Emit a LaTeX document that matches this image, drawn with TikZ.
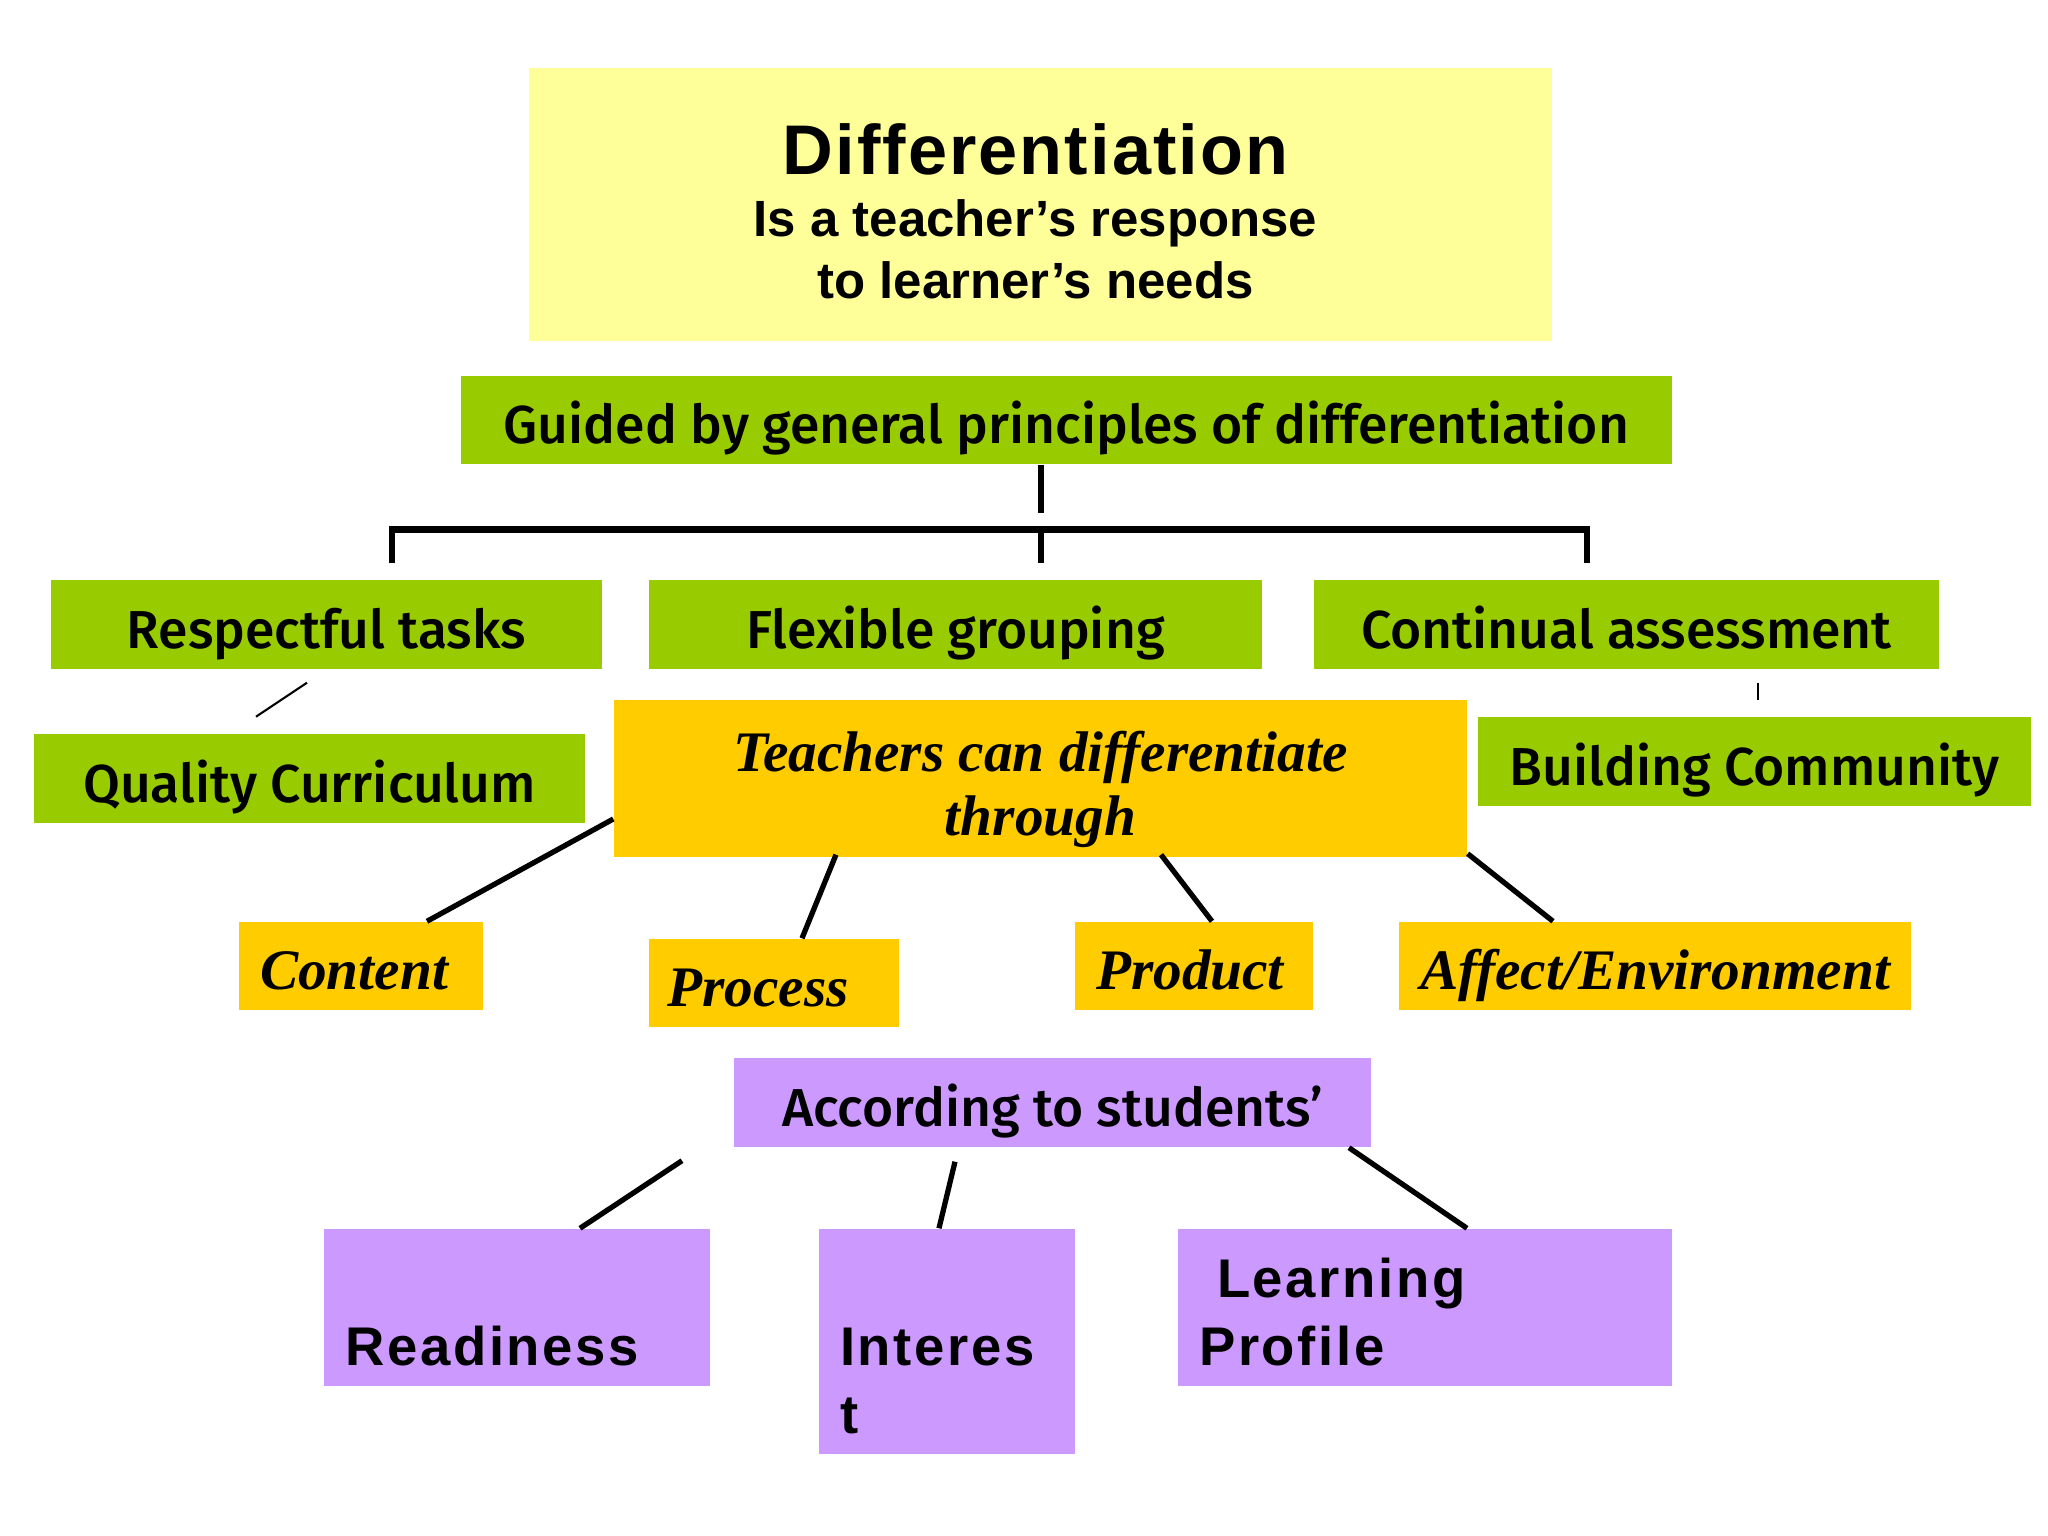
\documentclass[tikz,border=0pt]{standalone}
\usepackage{fontspec}
\setmainfont{Liberation Serif}
\newfontfamily\arialfont{Liberation Sans}
\newfontfamily\headfont{Liberation Sans}[LetterSpace=3]
\newfontfamily\spacedfont{Liberation Sans}[LetterSpace=5]
\newfontfamily\labelfont{Fira Sans}[UprightFont=* Medium]
\usepackage{tikz}
\usetikzlibrary{positioning,calc}

\definecolor{paleyellow}{HTML}{FFFF99}
\definecolor{leafgreen}{HTML}{99CC00}
\definecolor{amber}{HTML}{FFCC00}
\definecolor{lilac}{HTML}{CC99FF}

\begin{document}
\begin{tikzpicture}
    \tikzstyle{box}=[rectangle,inner sep=0pt,align=center]
    \tikzstyle{greenbox}=[box,fill=leafgreen,minimum height=0.89cm,text height=0.48cm,text depth=0cm,font=\labelfont\fontsize{15.2}{18}\selectfont]
    \tikzstyle{orangebox}=[box,fill=amber,minimum height=0.88cm,text height=0.46cm,text depth=0cm,font=\bfseries\itshape\fontsize{16.3}{18.4}\selectfont]
    \tikzstyle{purplebox}=[box,fill=lilac]
    \tikzstyle{purpletext}=[inner sep=0pt,anchor=base west,font=\spacedfont\bfseries\fontsize{15.5}{18}\selectfont]
    \tikzstyle{link}=[line width=1.5pt]

    \useasboundingbox (0,0) rectangle (20.48,-15.36);

    \node[box,fill=paleyellow,minimum width=10.23cm,minimum height=2.73cm] at (10.405,-2.045) (diff) {};
    \node[box,font=\arialfont\bfseries\fontsize{14.5}{17.6}\selectfont] at ($(diff.center)+(-0.05,-0.065)$) (difft)
      {{\headfont\fontsize{20}{17.6}\selectfont Differentiation}\\Is a teacher’s response\\to learner’s needs};

    \node[greenbox,minimum width=12.11cm,minimum height=0.88cm] at (10.665,-4.20) (guided) {Guided by general principles of differentiation};
    \node[greenbox,minimum width=5.51cm] at (3.265,-6.245) (resp) {Respectful tasks};
    \node[greenbox,minimum width=6.13cm] at (9.555,-6.245) (flex) {Flexible grouping};
    \node[greenbox,minimum width=6.25cm] at (16.265,-6.245) (cont) {Continual assessment};
    \node[greenbox,minimum width=5.51cm] at (3.095,-7.785) (qual) {Quality Curriculum};
    \node[greenbox,minimum width=5.53cm] at (17.545,-7.615) (build) {Building Community};

    \node[box,fill=amber,minimum width=8.53cm,minimum height=1.57cm,font=\bfseries\itshape\fontsize{16.3}{18.4}\selectfont]
      at (10.405,-7.785) (teach) {\rule{0pt}{0.62cm}Teachers can differentiate\\through};
    \node[orangebox,minimum width=2.44cm] at (3.61,-9.66) (content) {Content\hspace*{0.14cm}};
    \node[orangebox,minimum width=2.50cm] at (7.74,-9.83) (process) {Process\hspace*{0.32cm}};
    \node[orangebox,minimum width=2.38cm] at (11.94,-9.66) (product) {Product\hspace*{0.08cm}};
    \node[orangebox,minimum width=5.12cm] at (16.55,-9.66) (affect) {Affect/Environment};

    \node[purplebox,minimum width=6.37cm,minimum height=0.89cm,text height=0.48cm,text depth=0cm,
      font=\labelfont\fontsize{15.2}{18}\selectfont] at (10.525,-11.025) (accord) {According to students’};
    \node[purplebox,minimum width=3.86cm,minimum height=1.57cm] at (5.17,-13.075) (ready) {};
    \node[purplebox,minimum width=2.56cm,minimum height=2.25cm] at (9.47,-13.415) (inter) {};
    \node[purplebox,minimum width=4.94cm,minimum height=1.57cm] at (14.25,-13.075) (learn) {};
    \node[purpletext] at ($(ready.south west)+(0.21,0.21)$) (readyt) {Readiness};
    \node[purpletext] at ($(inter.south west)+(0.21,0.89)$) (intert) {Interes};
    \node[purpletext] at ($(inter.south west)+(0.21,0.21)$) (intert2) {t};
    \node[purpletext] at ($(learn.south west)+(0.39,0.89)$) (learnt) {Learning};
    \node[purpletext] at ($(learn.south west)+(0.21,0.21)$) (learnt2) {Profile};

    % bracket under the principles
    \coordinate (barl) at (3.92,-5.295);
    \coordinate (barm) at (10.41,-5.295);
    \coordinate (barr) at (15.87,-5.295);
    \draw[link] ($(guided.south)+(-0.255,0)$) -- ($(guided.south)+(-0.255,-0.48)$);
    \draw[line width=2pt] ($(barl)+(-0.03,0)$) -- ($(barr)+(0.03,0)$);
    \foreach \p in {barl,barm,barr} {
      \draw[link] (\p) -- ($(\p)+(0,-0.34)$);
    }
    \draw[line width=0.6pt] ($(resp.south)+(-0.195,-0.13)$) -- ($(resp.south)+(-0.705,-0.47)$);
    \draw[line width=0.6pt] ($(cont.south)+(1.315,-0.13)$) -- ($(cont.south)+(1.315,-0.30)$);

    % ways to differentiate
    \draw[link] ($(teach.west)+(0,-0.405)$) -- ($(content.north)+(0.66,0)$);
    \draw[link] ($(teach.south)+(-2.045,0.03)$) -- ($(process.north)+(0.28,0)$);
    \draw[link] ($(teach.south)+(1.205,0.03)$) -- ($(product.north)+(0.18,0)$);
    \draw[link] ($(teach.south east)+(0,0.04)$) -- ($(affect.north)+(-1.02,0)$);

    % students
    \draw[link] ($(accord.south)+(-3.705,-0.13)$) -- ($(ready.north)+(0.63,0)$);
    \draw[link] ($(accord.south)+(-0.975,-0.14)$) -- ($(inter.north)+(-0.08,0)$);
    \draw[link] ($(accord.south)+(2.965,0)$) -- ($(learn.north)+(0.42,0)$);
  \end{tikzpicture}
\end{document}
